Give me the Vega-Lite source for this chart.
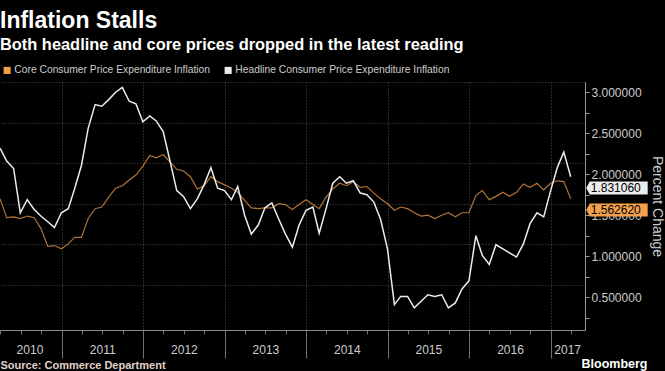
{
  "$schema": "https://vega.github.io/schema/vega-lite/v6.json",
  "width": 585,
  "height": 248,
  "autosize": "none",
  "padding": {"top": 82, "left": 0, "right": 80, "bottom": 41},
  "background": "#000000",
  "title": {
    "text": "Inflation Stalls",
    "subtitle": "Both headline and core prices dropped in the latest reading",
    "anchor": "start",
    "frame": "group",
    "font": "Liberation Sans",
    "fontSize": 23,
    "fontWeight": "bold",
    "color": "#ffffff",
    "subtitleFont": "Liberation Sans",
    "subtitleFontSize": 16.4,
    "subtitleFontWeight": "bold",
    "subtitleColor": "#ffffff",
    "subtitlePadding": 4,
    "offset": 12
  },
  "config": {"view": {"stroke": null}},
  "datasets": {
    "pce": [
      {"date": "2010-03-31", "core": 1.70, "headline": 2.32},
      {"date": "2010-04-30", "core": 1.47, "headline": 2.16},
      {"date": "2010-05-31", "core": 1.48, "headline": 2.07},
      {"date": "2010-06-30", "core": 1.46, "headline": 1.53},
      {"date": "2010-07-31", "core": 1.49, "headline": 1.69},
      {"date": "2010-08-31", "core": 1.47, "headline": 1.57},
      {"date": "2010-09-30", "core": 1.34, "headline": 1.49},
      {"date": "2010-10-31", "core": 1.12, "headline": 1.42},
      {"date": "2010-11-30", "core": 1.13, "headline": 1.35},
      {"date": "2010-12-31", "core": 1.09, "headline": 1.53},
      {"date": "2011-01-31", "core": 1.15, "headline": 1.58},
      {"date": "2011-02-28", "core": 1.23, "headline": 1.82},
      {"date": "2011-03-31", "core": 1.23, "headline": 2.11},
      {"date": "2011-04-30", "core": 1.46, "headline": 2.56},
      {"date": "2011-05-31", "core": 1.58, "headline": 2.85},
      {"date": "2011-06-30", "core": 1.60, "headline": 2.83},
      {"date": "2011-07-31", "core": 1.72, "headline": 2.91},
      {"date": "2011-08-31", "core": 1.83, "headline": 3.00},
      {"date": "2011-09-30", "core": 1.86, "headline": 3.06},
      {"date": "2011-10-31", "core": 1.93, "headline": 2.89},
      {"date": "2011-11-30", "core": 1.99, "headline": 2.86},
      {"date": "2011-12-31", "core": 2.10, "headline": 2.64},
      {"date": "2012-01-31", "core": 2.23, "headline": 2.71},
      {"date": "2012-02-29", "core": 2.20, "headline": 2.65},
      {"date": "2012-03-31", "core": 2.24, "headline": 2.52},
      {"date": "2012-04-30", "core": 2.15, "headline": 2.17},
      {"date": "2012-05-31", "core": 2.06, "headline": 1.80},
      {"date": "2012-06-30", "core": 2.04, "headline": 1.73},
      {"date": "2012-07-31", "core": 1.97, "headline": 1.58},
      {"date": "2012-08-31", "core": 1.82, "headline": 1.70},
      {"date": "2012-09-30", "core": 1.86, "headline": 1.87},
      {"date": "2012-10-31", "core": 1.97, "headline": 2.08},
      {"date": "2012-11-30", "core": 1.91, "headline": 1.83},
      {"date": "2012-12-31", "core": 1.87, "headline": 1.80},
      {"date": "2013-01-31", "core": 1.83, "headline": 1.69},
      {"date": "2013-02-28", "core": 1.78, "headline": 1.85},
      {"date": "2013-03-31", "core": 1.68, "headline": 1.50},
      {"date": "2013-04-30", "core": 1.59, "headline": 1.27},
      {"date": "2013-05-31", "core": 1.58, "headline": 1.38},
      {"date": "2013-06-30", "core": 1.59, "headline": 1.59},
      {"date": "2013-07-31", "core": 1.59, "headline": 1.65},
      {"date": "2013-08-31", "core": 1.64, "headline": 1.45},
      {"date": "2013-09-30", "core": 1.63, "headline": 1.27},
      {"date": "2013-10-31", "core": 1.57, "headline": 1.11},
      {"date": "2013-11-30", "core": 1.63, "headline": 1.38},
      {"date": "2013-12-31", "core": 1.69, "headline": 1.56},
      {"date": "2014-01-31", "core": 1.63, "headline": 1.60},
      {"date": "2014-02-28", "core": 1.58, "headline": 1.28},
      {"date": "2014-03-31", "core": 1.72, "headline": 1.58},
      {"date": "2014-04-30", "core": 1.82, "headline": 1.89},
      {"date": "2014-05-31", "core": 1.89, "headline": 1.97},
      {"date": "2014-06-30", "core": 1.86, "headline": 1.89},
      {"date": "2014-07-31", "core": 1.91, "headline": 1.92},
      {"date": "2014-08-31", "core": 1.84, "headline": 1.77},
      {"date": "2014-09-30", "core": 1.85, "headline": 1.75},
      {"date": "2014-10-31", "core": 1.77, "headline": 1.66},
      {"date": "2014-11-30", "core": 1.70, "headline": 1.45},
      {"date": "2014-12-31", "core": 1.64, "headline": 1.09},
      {"date": "2015-01-31", "core": 1.56, "headline": 0.41},
      {"date": "2015-02-28", "core": 1.60, "headline": 0.51},
      {"date": "2015-03-31", "core": 1.58, "headline": 0.51},
      {"date": "2015-04-30", "core": 1.53, "headline": 0.37},
      {"date": "2015-05-31", "core": 1.49, "headline": 0.45},
      {"date": "2015-06-30", "core": 1.50, "headline": 0.53},
      {"date": "2015-07-31", "core": 1.46, "headline": 0.51},
      {"date": "2015-08-31", "core": 1.50, "headline": 0.53},
      {"date": "2015-09-30", "core": 1.53, "headline": 0.37},
      {"date": "2015-10-31", "core": 1.48, "headline": 0.43},
      {"date": "2015-11-30", "core": 1.53, "headline": 0.60},
      {"date": "2015-12-31", "core": 1.53, "headline": 0.70},
      {"date": "2016-01-31", "core": 1.74, "headline": 1.25},
      {"date": "2016-02-29", "core": 1.80, "headline": 1.01},
      {"date": "2016-03-31", "core": 1.69, "headline": 0.90},
      {"date": "2016-04-30", "core": 1.73, "headline": 1.14},
      {"date": "2016-05-31", "core": 1.78, "headline": 1.09},
      {"date": "2016-06-30", "core": 1.73, "headline": 1.04},
      {"date": "2016-07-31", "core": 1.78, "headline": 0.99},
      {"date": "2016-08-31", "core": 1.88, "headline": 1.15},
      {"date": "2016-09-30", "core": 1.84, "headline": 1.40},
      {"date": "2016-10-31", "core": 1.89, "headline": 1.53},
      {"date": "2016-11-30", "core": 1.81, "headline": 1.48},
      {"date": "2016-12-31", "core": 1.89, "headline": 1.80},
      {"date": "2017-01-31", "core": 1.92, "headline": 2.09},
      {"date": "2017-02-28", "core": 1.91, "headline": 2.27},
      {"date": "2017-03-31", "core": 1.70, "headline": 1.97}
    ],
    "tags": [
      {"date": "2017-03-31", "series": "headline", "value": 1.83106},
      {"date": "2017-03-31", "series": "core", "value": 1.56262}
    ]
  },
  "layer": [
    {
      "data": {"name": "pce"},
      "transform": [{"fold": ["core", "headline"], "as": ["series", "value"]}],
      "mark": {"type": "line", "interpolate": "linear"},
      "encoding": {
        "x": {
          "field": "date",
          "type": "temporal",
          "scale": {"domain": [{"year": 2010, "month": 3, "date": 31, "utc": true}, {"year": 2017, "month": 6, "date": 3, "utc": true}]},
          "axis": {
            "orient": "bottom",
            "values": [
              {"year": 2010, "month": 4, "date": 1, "utc": true},
              {"year": 2010, "month": 7, "date": 1, "utc": true},
              {"year": 2010, "month": 10, "date": 1, "utc": true},
              {"year": 2011, "month": 1, "date": 1, "utc": true},
              {"year": 2011, "month": 4, "date": 1, "utc": true},
              {"year": 2011, "month": 7, "date": 1, "utc": true},
              {"year": 2011, "month": 10, "date": 1, "utc": true},
              {"year": 2012, "month": 1, "date": 1, "utc": true},
              {"year": 2012, "month": 4, "date": 1, "utc": true},
              {"year": 2012, "month": 7, "date": 1, "utc": true},
              {"year": 2012, "month": 10, "date": 1, "utc": true},
              {"year": 2013, "month": 1, "date": 1, "utc": true},
              {"year": 2013, "month": 4, "date": 1, "utc": true},
              {"year": 2013, "month": 7, "date": 1, "utc": true},
              {"year": 2013, "month": 10, "date": 1, "utc": true},
              {"year": 2014, "month": 1, "date": 1, "utc": true},
              {"year": 2014, "month": 4, "date": 1, "utc": true},
              {"year": 2014, "month": 7, "date": 1, "utc": true},
              {"year": 2014, "month": 10, "date": 1, "utc": true},
              {"year": 2015, "month": 1, "date": 1, "utc": true},
              {"year": 2015, "month": 4, "date": 1, "utc": true},
              {"year": 2015, "month": 7, "date": 1, "utc": true},
              {"year": 2015, "month": 10, "date": 1, "utc": true},
              {"year": 2016, "month": 1, "date": 1, "utc": true},
              {"year": 2016, "month": 4, "date": 1, "utc": true},
              {"year": 2016, "month": 7, "date": 1, "utc": true},
              {"year": 2016, "month": 10, "date": 1, "utc": true},
              {"year": 2017, "month": 1, "date": 1, "utc": true},
              {"year": 2017, "month": 4, "date": 1, "utc": true},
              {"year": 2010, "month": 8, "date": 10, "utc": true},
              {"year": 2011, "month": 7, "date": 2, "utc": true},
              {"year": 2012, "month": 7, "date": 2, "utc": true},
              {"year": 2013, "month": 7, "date": 2, "utc": true},
              {"year": 2014, "month": 7, "date": 2, "utc": true},
              {"year": 2015, "month": 7, "date": 2, "utc": true},
              {"year": 2016, "month": 7, "date": 2, "utc": true},
              {"year": 2017, "month": 3, "date": 15, "utc": true}
            ],
            "labelExpr": "utcdate(datum.value) != 1 ? '' + utcyear(datum.value) : ''",
            "labelAlign": "center",
            "labelBaseline": "top",
            "labelFlush": false,
            "labelOverlap": false,
            "labelBound": false,
            "labelColor": "#cccccc",
            "labelFont": "Liberation Sans",
            "labelFontSize": 12,
            "labelPadding": 10,
            "domainColor": "#8a8a8a",
            "domainWidth": 1,
            "grid": true,
            "gridColor": "#505050",
            "gridDash": [1, 2],
            "gridWidth": 1,
            "gridOpacity": {"condition": {"test": "utcmonth(datum.value) == 0 && utcdate(datum.value) == 1", "value": 1}, "value": 0},
            "tickColor": "#707070",
            "tickWidth": 1,
            "tickSize": {"condition": {"test": "utcmonth(datum.value) == 0 && utcdate(datum.value) == 1", "value": 28}, "value": 4},
            "tickOpacity": {"condition": {"test": "utcdate(datum.value) != 1", "value": 0}, "value": 1},
            "title": "Source: Commerce Department",
            "titleAnchor": "start",
            "titleAlign": "left",
            "titleBaseline": "alphabetic",
            "titleX": 0,
            "titleY": 38,
            "titleColor": "#e2d2cc",
            "titleFont": "Liberation Sans",
            "titleFontSize": 11,
            "titleFontWeight": "bold"
          }
        },
        "y": {
          "field": "value",
          "type": "quantitative",
          "scale": {"domain": [0.1, 3.125], "nice": false, "zero": false},
          "axis": {
            "orient": "right",
            "values": [0.25, 0.5, 0.75, 1, 1.25, 1.5, 1.75, 2, 2.25, 2.5, 2.75, 3, 0.65, 1.145, 1.64, 2.135, 2.63, 3.125],
            "labelExpr": "(datum.value * 2) % 1 == 0 ? format(datum.value, '.6f') : ''",
            "labelColor": "#cccccc",
            "labelFont": "Liberation Sans",
            "labelFontSize": 12,
            "labelPadding": 2,
            "labelOverlap": false,
            "labelFlush": false,
            "labelBound": false,
            "domainColor": "#9a9a9a",
            "domainWidth": 1,
            "tickColor": "#9a9a9a",
            "tickSize": 4,
            "tickOpacity": {"condition": {"test": "(datum.value * 4) % 1 != 0", "value": 0}, "value": 1},
            "grid": true,
            "gridColor": "#505050",
            "gridDash": [1, 2],
            "gridOpacity": {"condition": {"test": "(datum.value * 4) % 1 != 0", "value": 1}, "value": 0},
            "title": "Percent Change",
            "titleColor": "#cccccc",
            "titleFont": "Liberation Sans",
            "titleFontSize": 14,
            "titleFontWeight": "normal",
            "titlePadding": 8
          }
        },
        "color": {
          "field": "series",
          "type": "nominal",
          "scale": {"domain": ["core", "headline"], "range": ["#f39f4b", "#ececec"]},
          "legend": null
        },
        "strokeOpacity": {
          "field": "series",
          "type": "nominal",
          "scale": {"domain": ["core", "headline"], "range": [0.72, 1]},
          "legend": null
        },
        "strokeWidth": {
          "field": "series",
          "type": "ordinal",
          "scale": {"domain": ["core", "headline"], "range": [1.2, 1.5]},
          "legend": null
        }
      }
    },
    {
      "data": {"name": "tags"},
      "mark": {"type": "point", "shape": "M15.5,0L19,-6.5L77,-6.5L77,6.5L19,6.5Z", "size": 4, "filled": true, "opacity": 1, "strokeWidth": 0},
      "encoding": {
        "x": {
          "field": "date",
          "type": "temporal",
          "axis": {
            "orient": "bottom",
            "domain": false,
            "ticks": false,
            "labels": false,
            "grid": false,
            "title": "Bloomberg",
            "titleAlign": "right",
            "titleAnchor": "end",
            "titleBaseline": "alphabetic",
            "titleX": 647,
            "titleY": 37,
            "titleColor": "#ffffff",
            "titleFont": "Liberation Sans",
            "titleFontSize": 12.5,
            "titleFontWeight": "bold"
          }
        },
        "y": {"field": "value", "type": "quantitative", "axis": null},
        "color": {
          "field": "series",
          "type": "nominal",
          "legend": {
            "orient": "none",
            "legendX": 2,
            "legendY": -17,
            "direction": "horizontal",
            "title": null,
            "symbolType": "square",
            "symbolSize": 50,
            "symbolStrokeWidth": 0,
            "labelFont": "Liberation Sans",
            "labelFontSize": 10.3,
            "labelColor": "#cccccc",
            "labelOffset": 2,
            "columnPadding": 12,
            "labelLimit": 400,
            "labelExpr": "datum.label == 'core' ? 'Core Consumer Price Expenditure Inflation' : 'Headline Consumer Price Expenditure Inflation'"
          }
        }
      }
    },
    {
      "data": {"name": "tags"},
      "mark": {"type": "text", "align": "left", "baseline": "middle", "dx": 20, "font": "Liberation Sans", "fontSize": 12, "color": "#000000"},
      "encoding": {
        "x": {"field": "date", "type": "temporal", "axis": null},
        "y": {"field": "value", "type": "quantitative", "axis": null},
        "text": {"field": "value", "type": "quantitative", "format": ".6f"}
      }
    }
  ],
  "resolve": {"axis": {"x": "independent", "y": "independent"}, "legend": {"color": "independent"}}
}
